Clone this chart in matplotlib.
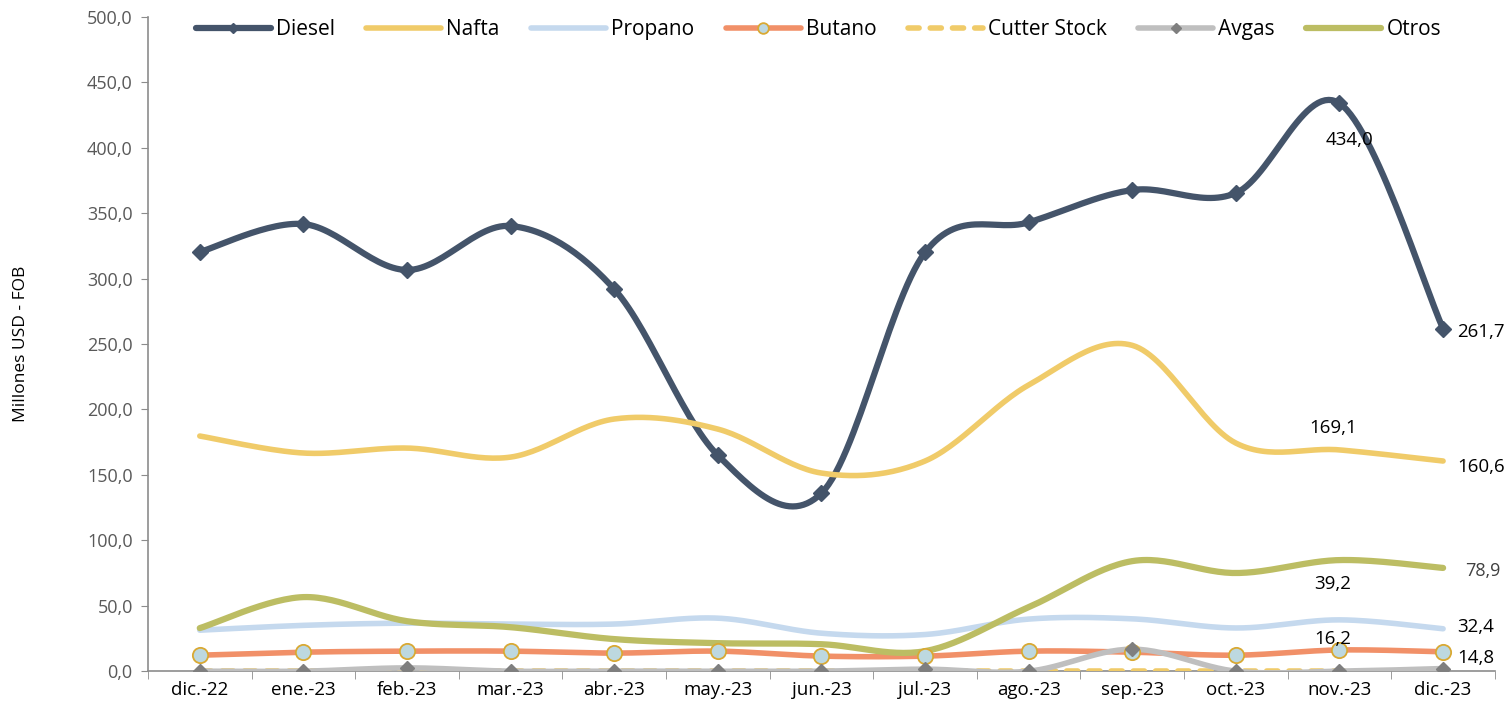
import numpy as np
import matplotlib
matplotlib.use("Agg")
import matplotlib.pyplot as plt
from matplotlib.ticker import FuncFormatter, FixedLocator

plt.rcParams['font.family'] = ['Open Sans', 'DejaVu Sans']

months = ['dic.-22', 'ene.-23', 'feb.-23', 'mar.-23', 'abr.-23', 'may.-23', 'jun.-23',
          'jul.-23', 'ago.-23', 'sep.-23', 'oct.-23', 'nov.-23', 'dic.-23']
diesel = [320.4, 341.7, 306.6, 340.2, 292.0, 165.0, 136.0, 320.0, 343.0, 367.7, 365.4, 434.0, 261.7]
nafta = [179.7, 166.7, 170.5, 163.6, 192.7, 185.0, 151.4, 160.6, 218.7, 249.0, 174.3, 169.1, 160.6]
propano = [31.3, 35.0, 36.7, 36.0, 36.0, 40.5, 29.0, 28.0, 39.8, 40.0, 33.0, 39.2, 32.4]
butano = [12.2, 14.5, 15.3, 15.3, 13.8, 15.3, 11.5, 11.5, 15.3, 14.5, 12.2, 16.2, 14.8]
cutter = [0, 0, 0, 0, 0, 0, 0, 0, 0, 0, 0, 0, 0]
avgas = [0, 0, 2.5, 0, 0, 0, 0, 1.5, 0, 16.8, 0, 0, 2.0]
otros = [32.9, 56.6, 38.2, 33.6, 24.5, 21.4, 20.6, 15.3, 48.9, 84.1, 75.0, 84.9, 78.9]


def smooth(x, y, n=30):
    # Excel-like smoothed line: cubic Bezier with Catmull-Rom control points
    x = np.asarray(x, float)
    y = np.asarray(y, float)
    px = np.concatenate([[x[0]], x, [x[-1]]])
    py = np.concatenate([[y[0]], y, [y[-1]]])
    xs, ys = [], []
    t = np.linspace(0, 1, n)
    for i in range(len(x) - 1):
        p0 = np.array([px[i], py[i]])
        p1 = np.array([px[i + 1], py[i + 1]])
        p2 = np.array([px[i + 2], py[i + 2]])
        p3 = np.array([px[i + 3], py[i + 3]])
        c1 = p1 + (p2 - p0) / 6
        c2 = p2 - (p3 - p1) / 6
        b = ((1 - t) ** 3)[:, None] * p1 + (3 * (1 - t) ** 2 * t)[:, None] * c1 \
            + (3 * (1 - t) * t ** 2)[:, None] * c2 + (t ** 3)[:, None] * p2
        xs.append(b[:, 0])
        ys.append(b[:, 1])
    return np.concatenate(xs), np.concatenate(ys)


fig = plt.figure(figsize=(15.1, 7.05), dpi=100)
ax = fig.add_axes([0.098, 0.048, 0.892, 0.928])
x = np.arange(len(months))

series = [
    ('Diesel', diesel, dict(color='#44546A', lw=4.5, ls='-'), dict(marker='D', ms=8, mfc='#44546A', mec='#44546A')),
    ('Nafta', nafta, dict(color='#F0CB69', lw=4, ls='-'), None),
    ('Propano', propano, dict(color='#C5D9EE', lw=4, ls='-'), None),
    ('Butano', butano, dict(color='#F19068', lw=4, ls='-'), dict(marker='o', ms=11, mfc='#BDD8E0', mec='#D9A933', mew=1.3)),
    ('Cutter Stock', cutter, dict(color='#F0CB69', lw=4, ls=(0, (2, 2))), None),
    ('Avgas', avgas, dict(color='#BFBFBF', lw=4, ls='-'), dict(marker='D', ms=7, mfc='#7F7F7F', mec='#7F7F7F')),
    ('Otros', otros, dict(color='#BCBD63', lw=4.5, ls='-'), None),
]

handles = []
for name, vals, lstyle, mstyle in series:
    sx, sy = smooth(x, vals)
    ax.plot(sx, sy, solid_capstyle='round', dash_capstyle='round', zorder=3, **lstyle)
    if mstyle:
        ax.plot(x, vals, ls='none', zorder=4, **mstyle)
        h, = ax.plot([], [], **lstyle, **{k: v for k, v in mstyle.items()})
        h.set_markersize(mstyle['ms'] * 0.7)
    else:
        h, = ax.plot([], [], **lstyle)
    h.set_label(name)
    h.set_solid_capstyle('round')
    h.set_dash_capstyle('round')
    handles.append(h)

ax.set_xlim(-0.5, len(months) - 0.5)
ax.set_ylim(0, 500)
ax.set_yticks(np.arange(0, 501, 50))
ax.yaxis.set_major_formatter(FuncFormatter(lambda v, p: f'{v:.1f}'.replace('.', ',')))
ax.set_xticks(x)
ax.set_xticklabels(months, fontsize=13.5)
ax.xaxis.set_minor_locator(FixedLocator(np.arange(-0.5, len(months), 1)))
ax.tick_params(axis='x', which='major', length=0, pad=7)
ax.tick_params(axis='x', which='minor', length=6, color='#8C8C8C', direction='out')
ax.tick_params(axis='y', length=5, color='#8C8C8C', labelsize=13, labelcolor='#595959', pad=6)
for s in ['top', 'right']:
    ax.spines[s].set_visible(False)
for s in ['left', 'bottom']:
    ax.spines[s].set_color('#8C8C8C')
    ax.spines[s].set_linewidth(1.2)
ax.set_ylabel('Millones USD - FOB', fontsize=12.5, labelpad=42)

# data labels
lab = dict(fontsize=13.5, color='black', zorder=6)
ax.annotate('434,0', (11, 434.0), xytext=(-10, -30), textcoords='offset points', **lab)
ax.annotate('261,7', (12, 261.7), xytext=(10, -6), textcoords='offset points', **lab)
ax.annotate('169,1', (11, 169.1), xytext=(-22, 12), textcoords='offset points', **lab)
ax.annotate('160,6', (12, 160.6), xytext=(10, -8), textcoords='offset points', **lab)
ax.annotate('78,9', (12, 78.9), xytext=(16, -6), textcoords='offset points',
            fontsize=13, color='#404040', zorder=6)
ax.annotate('39,2', (11, 39.2), xytext=(-18, 22), textcoords='offset points', **lab)
ax.annotate('32,4', (12, 32.4), xytext=(10, -2), textcoords='offset points', **lab)
ax.annotate('16,2', (11, 16.2), xytext=(-18, 4), textcoords='offset points', **lab)
ax.annotate('14,8', (12, 14.8), xytext=(10, -8), textcoords='offset points', **lab)

fig.legend(handles=handles, loc='center', bbox_to_anchor=(0.542, 0.958), ncol=7, frameon=False,
           fontsize=15, handlelength=3.6, handletextpad=0.25, columnspacing=1.5)

fig.savefig('out.png', dpi=100)
